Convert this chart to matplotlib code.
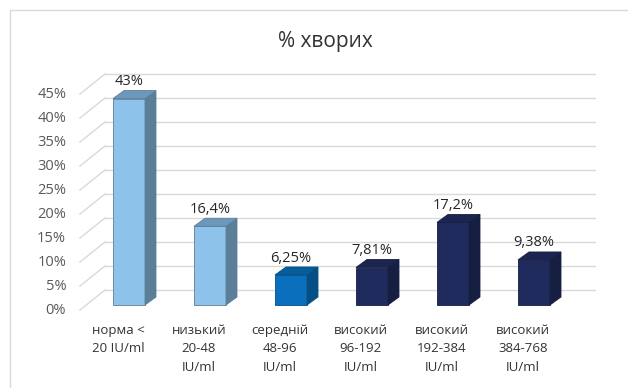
import numpy as np
import matplotlib.pyplot as plt
from matplotlib.patches import Polygon, Rectangle

plt.rcParams['font.family'] = ['Open Sans', 'DejaVu Sans']

# data
categories = ['норма <\n20 IU/ml', 'низький\n20-48\nIU/ml', 'середній\n48-96\nIU/ml',
              'високий\n96-192\nIU/ml', 'високий\n192-384\nIU/ml', 'високий\n384-768\nIU/ml']
values = [43, 16.4, 6.25, 7.81, 17.2, 9.38]
value_labels = ['43%', '16,4%', '6,25%', '7,81%', '17,2%', '9,38%']
ticks = [0, 5, 10, 15, 20, 25, 30, 35, 40, 45]

# colours of front / side / top faces
light = ('#8DC3EA', '#5B7F99', '#6D98BC')
mid = ('#0A70BD', '#064F85', '#075C9B')
navy = ('#1F2B5D', '#161E42', '#1B254F')
bar_colors = [light, light, mid, navy, navy, navy]

# pixel scale of the picture (px per category, px per percent)
PX = 81.0
PY = 4.8

fig = plt.figure(figsize=(6.28, 3.88), dpi=100)
ax = fig.add_axes([0, 0, 1, 1])
ax.set_xlim(-118 / PX, 510 / PX)
ax.set_ylim(-78 / PY, 310 / PY)
ax.axis('off')

# depth offsets in data units
wall_dx, wall_dy = 25 / PX, 20 / PY
bar_offx, bar_offy = 11 / PX, 5 / PY
bar_w = 32 / PX
bar_dx, bar_dy = 11 / PX, 8 / PY
x_left, x_right = -0.47, 5.58

# back wall gridlines and diagonal connectors
for t in ticks:
    ax.plot([x_left + wall_dx, x_right + wall_dx], [t + wall_dy, t + wall_dy],
            color='#D9D9D9', lw=1, zorder=1)
    ax.plot([x_left, x_left + wall_dx], [t, t + wall_dy], color='#D9D9D9', lw=1, zorder=1)
    ax.text(x_left - 0.17, t, f'{t}%', ha='right', va='center', fontsize=10.5, color='#595959')

# 3d-looking bars
for i, v in enumerate(values):
    front, side, top = bar_colors[i]
    x0 = i + bar_offx - bar_w / 2
    y0 = bar_offy
    ax.add_patch(Rectangle((x0, y0), bar_w, v, facecolor=front, edgecolor=side, lw=0.6, zorder=3))
    ax.add_patch(Polygon([(x0 + bar_w, y0), (x0 + bar_w + bar_dx, y0 + bar_dy),
                          (x0 + bar_w + bar_dx, y0 + v + bar_dy), (x0 + bar_w, y0 + v)],
                         closed=True, facecolor=side, edgecolor=side, lw=0.6, zorder=3))
    ax.add_patch(Polygon([(x0, y0 + v), (x0 + bar_dx, y0 + v + bar_dy),
                          (x0 + bar_w + bar_dx, y0 + v + bar_dy), (x0 + bar_w, y0 + v)],
                         closed=True, facecolor=top, edgecolor=side, lw=0.6, zorder=3))
    ax.text(i + bar_offx, y0 + v + 17 / PY, value_labels[i], ha='center', va='center',
            fontsize=10.5, color='#262626', zorder=4)
    ax.text(i, -14 / PY, categories[i], ha='center', va='top', fontsize=9.5,
            color='#333333', linespacing=1.55)

fig.text(325 / 628, 1 - 42 / 388, '% хворих', ha='center', va='center',
         fontsize=15, color='#333333')

# light frame of the chart area
fig.patches.append(Rectangle((10 / 628, -0.1), 1.2, 1 - 10 / 388 + 0.1,
                             transform=fig.transFigure, fill=False,
                             edgecolor='#D9D9D9', lw=1))

fig.savefig('out.png', dpi=100)
